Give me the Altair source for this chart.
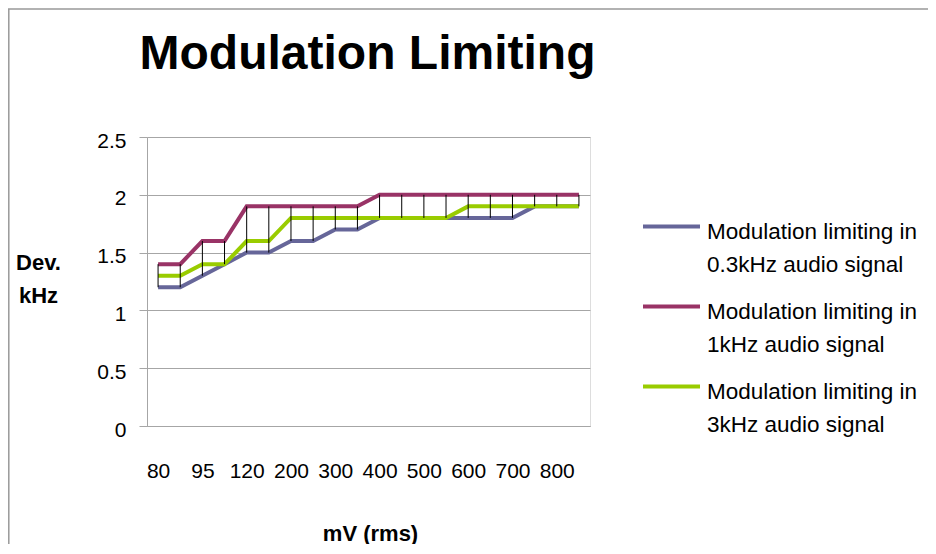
import altair as alt
import pandas as pd

chart_title = "Modulation Limiting"
y_title = ["Dev.", "kHz"]
x_title = "mV (rms)"

categories = ["80", "90", "95", "100", "120", "150", "200", "250", "300", "350",
              "400", "450", "500", "550", "600", "650", "700", "750", "800", "850"]
tick_labels = ["80", "95", "120", "200", "300", "400", "500", "600", "700", "800"]
y_ticks = [0, 0.5, 1, 1.5, 2, 2.5]

series_names = [
    "Modulation limiting in 0.3kHz audio signal",
    "Modulation limiting in 1kHz audio signal",
    "Modulation limiting in 3kHz audio signal",
]
series_colors = ["#666699", "#993366", "#99CC00"]

dev_03k = [1.2, 1.2, 1.3, 1.4, 1.5, 1.5, 1.6, 1.6, 1.7, 1.7,
           1.8, 1.8, 1.8, 1.8, 1.8, 1.8, 1.8, 1.9, 1.9, 1.9]
dev_1k = [1.4, 1.4, 1.6, 1.6, 1.9, 1.9, 1.9, 1.9, 1.9, 1.9,
          2.0, 2.0, 2.0, 2.0, 2.0, 2.0, 2.0, 2.0, 2.0, 2.0]
dev_3k = [1.3, 1.3, 1.4, 1.4, 1.6, 1.6, 1.8, 1.8, 1.8, 1.8,
          1.8, 1.8, 1.8, 1.8, 1.9, 1.9, 1.9, 1.9, 1.9, 1.9]

rows = []
for name, vals in zip(series_names, [dev_03k, dev_1k, dev_3k]):
    for c, v in zip(categories, vals):
        rows.append({"mv": c, "series": name, "dev": v})
df = pd.DataFrame(rows)

wide = pd.DataFrame({
    "mv": categories,
    "lo": [min(a, b, c) for a, b, c in zip(dev_03k, dev_1k, dev_3k)],
    "hi": [max(a, b, c) for a, b, c in zip(dev_03k, dev_1k, dev_3k)],
})

FONT = "Liberation Sans"
GRAY = "#a6a6a6"
LABEL_DY = -6  # applied to all guide labels through the guide-label style

x_axis = alt.Axis(
    values=tick_labels, title=x_title, labelAngle=0, ticks=False, tickSize=0,
    labelPadding=45 - LABEL_DY, labelBaseline="middle", labelFontSize=21, labelColor="black",
    labelFont=FONT, labelOverlap=False, domainColor=GRAY, grid=False,
    titleFont=FONT, titleFontSize=22, titleFontWeight="bold", titleColor="black",
    titleBaseline="alphabetic", titleY=114, titleX=223,
)
y_axis = alt.Axis(
    values=y_ticks, format="~g", title=y_title, titleAngle=0, titleAlign="center",
    titleBaseline="top", titleX=-109, titleY=115.5, titleFont=FONT, titleFontSize=22,
    titleFontWeight="bold", titleLineHeight=33, titleColor="black",
    labelFont=FONT, labelFontSize=21, labelColor="black", labelPadding=13,
    labelOffset=4 - LABEL_DY, tickSize=8, tickColor=GRAY, domainColor=GRAY, gridColor=GRAY,
    grid=True,
)

x_enc = alt.X("mv:N", sort=categories, scale=alt.Scale(type="point", padding=0.5), axis=x_axis)
y_scale = alt.Scale(domain=[0, 2.5], nice=False)

lines = alt.Chart(df).mark_line(strokeWidth=4).encode(
    x=x_enc,
    y=alt.Y("dev:Q", scale=y_scale, axis=y_axis),
    color=alt.Color(
        "series:N",
        scale=alt.Scale(domain=series_names, range=series_colors),
        legend=alt.Legend(
            orient="none", legendX=494, legendY=59, title=None,
            symbolType="stroke", symbolSize=3249, symbolStrokeWidth=4,
            labelFont=FONT, labelFontSize=22.5, labelColor="black", labelOffset=5,
            labelBaseline="top", labelLimit=400, rowPadding=0,
            labelExpr="[slice(datum.label, 0, 22), slice(datum.label, 23)]",
        ),
    ),
)

drops = alt.Chart(wide).mark_rule(color="black", strokeWidth=1).encode(
    x=x_enc,
    y=alt.Y("lo:Q", scale=y_scale, axis=y_axis),
    y2="hi:Q",
)

title_df = pd.DataFrame({"t": [chart_title]})
title = alt.Chart(title_df).mark_text(
    font=FONT, fontSize=48, fontWeight="bold", align="center", baseline="alphabetic", color="black"
).encode(text="t:N", x=alt.value(220.5), y=alt.value(-68))

frame_df = pd.DataFrame({"f": [0]})
top_border = alt.Chart(frame_df).mark_rule(color="#999999", strokeWidth=1.5).encode(
    x=alt.value(-139), x2=alt.value(800), y=alt.value(-128)
)
left_border = alt.Chart(frame_df).mark_rule(color="#999999", strokeWidth=1.5).encode(
    x=alt.value(-138.2), y=alt.value(-128), y2=alt.value(500)
)

chart = alt.layer(lines, drops, title, top_border, left_border).properties(
    width=443, height=289,
    autosize=alt.AutoSizeParams(type="none"),
    padding={"left": 139, "top": 129, "right": 338, "bottom": 118},
).configure_view(stroke=None).configure(
    font=FONT,
    style={"guide-label": {"lineHeight": 33, "dy": LABEL_DY}},
)

chart.save("out.html", embed_options={"renderer": "svg", "actions": False})
